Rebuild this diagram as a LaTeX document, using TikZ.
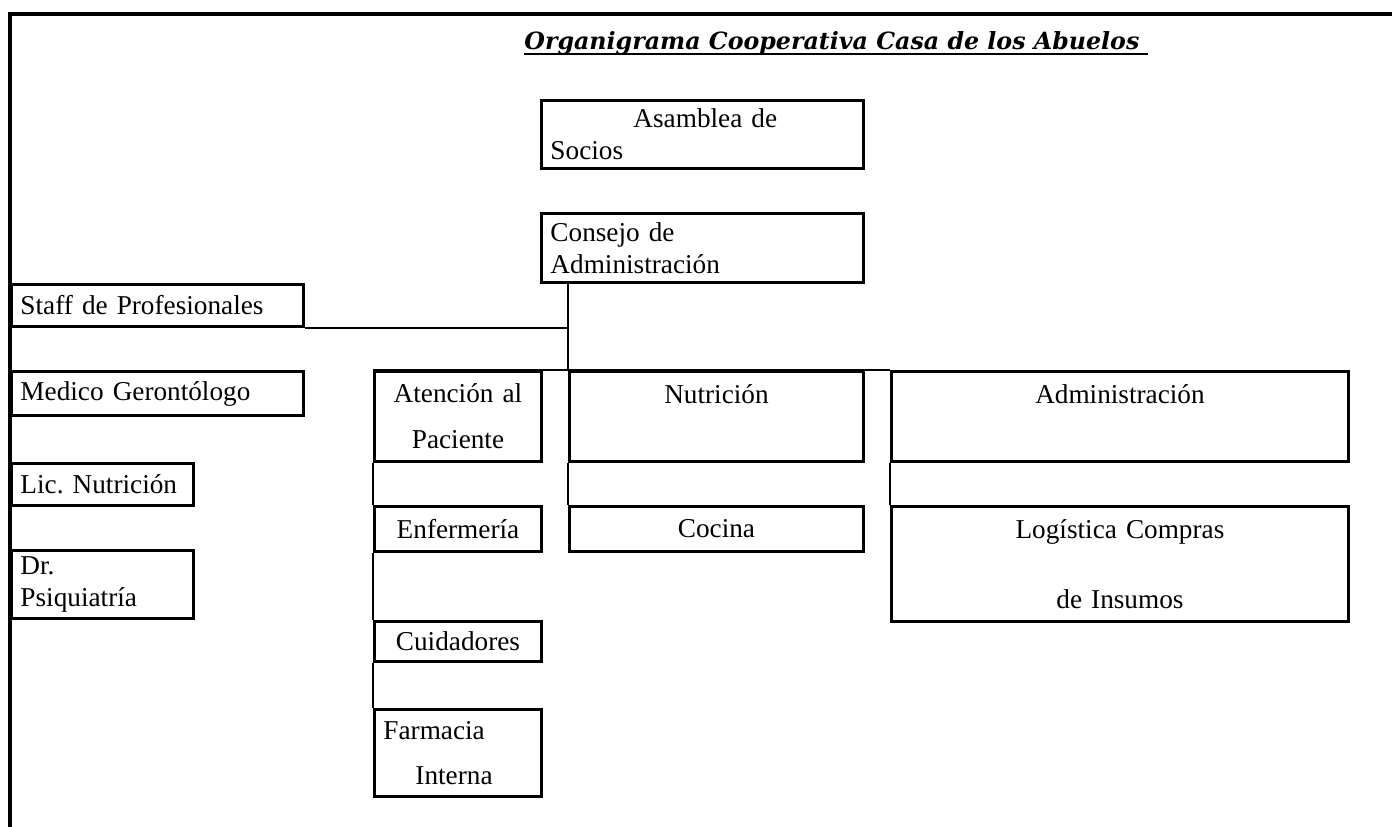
\documentclass[tikz,border=0pt]{standalone}
\usepackage{fontspec}
\setmainfont{Liberation Serif}
\newfontfamily\titulofont{DejaVu Serif}
\newcommand{\subrayado}[1]{\setbox0=\hbox{#1}\leavevmode\rlap{\copy0}\raisebox{-3pt}{\rule{\wd0}{1.3pt}}}
\frenchspacing

\begin{document}
\begin{tikzpicture}[x=0.02cm,y=-0.02cm]
      \tikzstyle{caja}=[draw=black,line width=1.7pt,anchor=north west,inner xsep=0.18cm,inner ysep=0pt,font=\fontsize{15.5}{18}\selectfont];
      \tikzstyle{linea}=[draw=black,line width=0.8pt];
      \tikzstyle{marco}=[draw=black,line width=2pt];

      \useasboundingbox (0,0) rectangle (1392,827);
      \path[marco] (1392,14) -| (10,827);

      \node[anchor=base west,inner sep=0pt,font=\titulofont\bfseries\itshape\fontsize{13.5}{16}\selectfont](titulo) at (524,50) {\subrayado{Organigrama Cooperativa Casa de los Abuelos\ }};

      \node[caja,text width=6.08cm,minimum height=1.36cm,align=left](asamblea) at (540,99) {\hspace*{1.66cm}Asamblea de\\Socios};
      \node[caja,text width=6.08cm,minimum height=1.38cm,align=left](consejo) at (540,212) {Consejo de\\Administración};

      \node[caja,text width=5.48cm,minimum height=0.84cm,align=left](staff) at (10,283) {Staff de Profesionales};
      \node[caja,text width=5.48cm,minimum height=0.88cm,align=left](medico) at (10,370) {Medico Gerontólogo};
      \node[caja,text width=3.28cm,minimum height=0.84cm,align=left](licnutri) at (10,462) {Lic. Nutrición};
      \node[caja,text width=3.28cm,minimum height=1.36cm,align=left](psiquiatra) at (10,549) {Dr.\\Psiquiatría};

      \node[caja,text width=2.98cm,minimum height=1.8cm,align=center](atencion) at (373,370) {Atención al\\[8pt]Paciente};
      \node[caja,text width=2.98cm,minimum height=0.9cm,align=center](enfermeria) at (373,505) {Enfermería};
      \node[caja,text width=2.98cm,minimum height=0.8cm,align=center](cuidadores) at (373,620) {Cuidadores};
      \node[caja,text width=2.98cm,minimum height=1.74cm,align=left](farmacia) at (373,708) {Farmacia\\[8pt]\hspace*{0.64cm}Interna};

      \node[caja,text width=5.52cm,minimum height=1.8cm,align=center](nutricion) at (568,370) {Nutrición\\[8pt]\mbox{}};
      \node[caja,text width=5.52cm,minimum height=0.9cm,align=center](cocina) at (568,505) {Cocina};

      \node[caja,text width=8.78cm,minimum height=1.8cm,align=center](administracion) at (890,370) {Administración\\[8pt]\mbox{}};
      \node[caja,text width=8.78cm,minimum height=2.3cm,align=center](logistica) at (890,505) {Logística Compras\\[22pt]de Insumos};

      \path[linea] (consejo.south -| nutricion.north west) edge (nutricion.north west);
      \path[linea] (staff.south east) edge (staff.south east -| nutricion.north west);
      \path[linea] (atencion.north west) edge (administracion.north west);
      \path[linea] (atencion.south west) edge (enfermeria.north west);
      \path[linea] (enfermeria.south west) edge (cuidadores.north west);
      \path[linea] (cuidadores.south west) edge (farmacia.north west);
      \path[linea] (nutricion.south west) edge (cocina.north west);
      \path[linea] (administracion.south west) edge (logistica.north west);

    \end{tikzpicture}
\end{document}
